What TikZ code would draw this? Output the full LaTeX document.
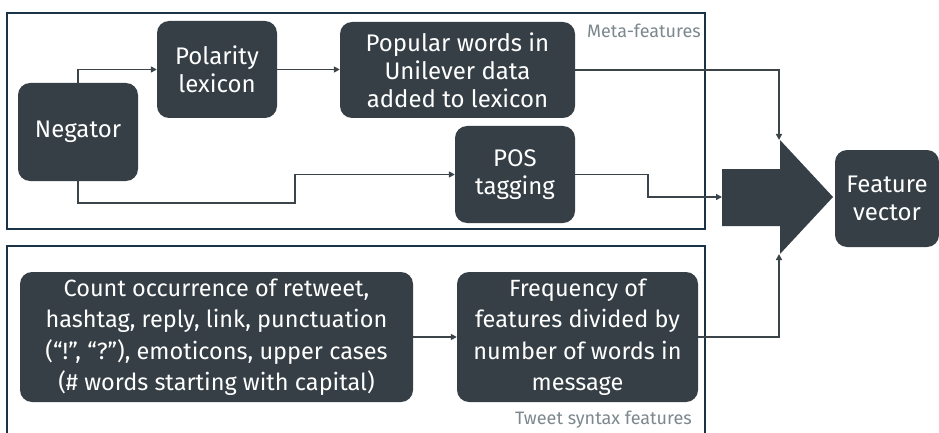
\documentclass[tikz,border=0pt]{standalone}
\usepackage{fontspec}
\setmainfont{Fira Sans}
\usetikzlibrary{arrows.meta}
\definecolor{boxfill}{HTML}{353F45}
\definecolor{framecol}{HTML}{1B3347}
\definecolor{linecol}{HTML}{3A4449}
\definecolor{labelcol}{HTML}{7C888D}
\tikzset{
  box/.style={draw=none, fill=boxfill, rounded corners=12pt, text=white,
    align=center, inner sep=0pt,
    font=\fontsize{24}{28}\selectfont},
  tallbox/.style={box, font=\fontsize{23.5}{31.5}\selectfont},
  conn/.style={draw=linecol, line width=1.6pt,
    -{Triangle[width=6pt,length=6pt]}},
  frame/.style={draw=framecol, line width=2.2pt},
  grouplabel/.style={text=labelcol, inner sep=0pt,
    font=\fontsize{18}{20}\selectfont}
}
\begin{document}
\begin{tikzpicture}[x=1pt,y=-1pt]
\useasboundingbox (0,0) rectangle (939,433);
\begin{scope}
\clip (0,0) rectangle (939,433);
% group frames
\draw[frame] (7,13) rectangle (705,229);
\draw[frame] (7,460) -- (7,246) -- (705,246) -- (705,460);
\end{scope}
\node[grouplabel, anchor=east] (metalbl) at (701,31) {Meta-features};
\node[grouplabel, anchor=east] (synlbl) at (692,420) {Tweet syntax features};

% processing steps
\node[box, minimum width=120pt, minimum height=98pt] (neg) at (78,132) {Negator};
\node[box, minimum width=120pt, minimum height=97pt] (pol) at (217,69.5) {Polarity\\lexicon};
\node[box, minimum width=235pt, minimum height=96pt] (pop) at (457.5,70) {Popular words in\\Unilever data\\added to lexicon};
\node[box, minimum width=120pt, minimum height=97pt] (pos) at (515,174.5) {POS\\tagging};
\node[box, minimum width=104pt, minimum height=97pt] (fv) at (887,198.5) {Feature\\vector};
\node[tallbox, minimum width=393pt, minimum height=130pt] (cnt) at (216.5,337)
  {Count occurrence of retweet,\\hashtag, reply, link, punctuation\\(“!”, “?”), emoticons, upper cases\\(\# words starting with capital)};
\node[tallbox, minimum width=241pt, minimum height=130pt] (freq) at (577.5,337)
  {Frequency of\\features divided by\\number of words in\\message};

% merging arrow
\fill[boxfill] (722,169) -- (780,169) -- (780,140) -- (833,197) -- (780,254) -- (780,226) -- (722,226) -- cycle;
\coordinate (artop) at (779,140);
\coordinate (arbot) at (779,254);
\coordinate (arleft) at (722,197);
\coordinate (k1) at (295,203);
\coordinate (k2) at (648,197);

% connectors
\draw[conn] (neg.north) |- (pol.west);
\draw[conn] (pol.east) -- (pol.east -| pop.west);
\draw[conn] (neg.south) |- (k1) |- (pos.west);
\draw[conn] (pop.east) -| (artop);
\draw[conn] (pos.east) -| (k2) -- (arleft);
\draw[conn] (freq.east) -| (arbot);
\draw[conn] (cnt.east) -- (freq.west);
\end{tikzpicture}
\end{document}
